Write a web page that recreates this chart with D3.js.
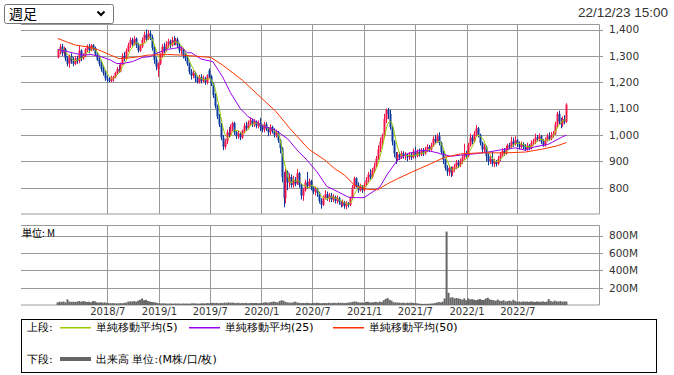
<!DOCTYPE html>
<html>
<head>
<meta charset="utf-8">
<script src="https://cdn.jsdelivr.net/npm/d3@7"></script>
<style>
body { margin: 0; background: #fff; }
svg { display: block; }
text { font-family: "DejaVu Sans", sans-serif; }
</style>
</head>
<body>
<div id="chart"></div>
<script>
// weekly candles, first week 2018/1/5
var firstWeek = new Date(2018, 0, 5);

var opens = [1295,1320,1335,1310,1325,1290,1270,1300,1280,1270,1290,1280,1320,1290,1300,1325,1335,1320,1340,1330,
	1305,1285,1270,1250,1235,1215,1210,1205,1212,1220,1235,1250,1240,1270,1300,1290,1320,1340,1360,1345,
	1365,1340,1320,1335,1360,1380,1365,1385,1370,1330,1285,1250,1270,1300,1335,1320,1345,1355,1340,1360,
	1350,1362,1340,1320,1325,1300,1290,1270,1240,1225,1235,1215,1200,1220,1205,1215,1200,1245,1222,1195,
	1150,1110,1070,1040,990,955,975,1010,1000,1030,1045,1010,995,1005,990,1015,1035,1025,1045,1055,
	1040,1050,1035,1045,1030,1020,1040,1025,1010,1030,1015,1000,1010,980,950,840,760,860,820,840,
	810,830,815,855,810,770,790,820,805,825,800,785,795,780,750,735,760,775,760,770,
	755,765,750,760,745,735,745,730,740,735,760,800,835,810,790,805,790,810,830,850,
	840,865,880,910,945,975,995,1060,1095,1080,1030,975,930,910,925,915,930,920,925,915,
	925,915,935,920,935,925,940,930,945,955,945,960,985,975,995,970,935,905,875,860,
	875,855,870,880,895,885,900,915,930,920,960,990,975,1005,1025,1000,970,945,955,920,
	900,910,890,900,890,910,925,940,930,950,960,955,975,965,980,965,955,965,955,945,
	960,950,970,975,990,985,995,975,960,980,995,985,1000,1005,1040,1080,1050,1040,1060,1050];
var highs = [1325,1345,1345,1335,1330,1300,1305,1310,1295,1300,1300,1338,1325,1310,1330,1343,1345,1345,1345,1335,
	1310,1295,1280,1260,1245,1225,1220,1225,1225,1240,1258,1265,1275,1310,1315,1328,1350,1370,1368,1375,
	1370,1350,1345,1370,1392,1400,1398,1395,1380,1335,1295,1275,1310,1345,1350,1355,1365,1362,1372,1375,
	1368,1370,1350,1335,1330,1310,1300,1275,1250,1245,1240,1225,1228,1230,1225,1220,1230,1252,1228,1200,
	1158,1115,1080,1045,1000,985,1020,1030,1040,1050,1050,1015,1015,1012,1020,1045,1050,1055,1066,1062,
	1060,1055,1055,1065,1040,1050,1048,1030,1040,1035,1025,1020,1015,985,955,860,872,865,855,850,
	845,840,870,860,815,800,830,860,835,830,805,805,800,785,760,770,790,785,780,780,
	775,770,770,765,750,755,750,748,745,765,810,842,840,820,815,810,820,840,860,870,
	875,895,920,961,990,1005,1080,1100,1102,1095,1035,980,935,935,935,940,938,935,930,935,
	932,948,955,945,948,950,950,955,965,962,970,995,1000,1005,1010,975,940,910,885,885,
	880,880,890,905,905,910,925,967,940,970,1005,1000,1015,1037,1030,1005,975,965,960,930,
	925,935,910,905,920,935,950,950,960,967,970,993,990,995,985,975,975,972,965,970,
	965,980,985,1005,1000,1005,1000,985,990,1005,1010,1011,1015,1050,1088,1092,1065,1070,1075,1120];
var lows = [1290,1305,1300,1300,1280,1260,1255,1270,1260,1265,1270,1272,1280,1285,1295,1315,1310,1318,1320,1300,
	1280,1260,1240,1225,1205,1200,1200,1200,1202,1215,1228,1235,1238,1265,1280,1285,1315,1330,1335,1340,
	1330,1312,1315,1330,1350,1355,1360,1360,1320,1270,1245,1220,1265,1295,1310,1315,1330,1330,1335,1340,
	1340,1330,1310,1305,1290,1280,1262,1230,1210,1215,1200,1195,1195,1195,1198,1190,1192,1215,1185,1140,
	1100,1060,1030,980,942,945,965,990,995,1015,1000,985,985,980,985,1005,1015,1020,1035,1030,
	1030,1025,1025,1015,1010,1010,1015,995,1000,1005,990,990,970,930,820,726,740,790,800,800,
	800,805,810,800,755,750,785,795,800,790,775,770,765,740,720,730,755,750,745,745,
	745,740,740,735,725,728,720,718,725,730,755,795,800,780,785,780,785,805,820,830,
	835,855,875,905,935,960,990,1045,1060,1020,960,915,890,900,905,908,910,905,900,905,
	905,910,912,915,918,920,920,925,935,935,940,955,965,970,960,925,890,865,845,845,
	840,845,860,870,875,878,890,905,910,915,955,965,970,995,990,960,930,935,900,885,
	890,880,878,880,885,900,918,920,925,940,945,950,955,960,955,945,948,945,940,940,
	942,945,960,965,975,975,965,955,955,975,978,980,990,1000,1030,1040,1025,1030,1040,1045];
var closes = [1320,1335,1310,1325,1290,1270,1300,1280,1270,1290,1280,1320,1290,1300,1325,1335,1320,1340,1330,1305,
	1285,1270,1250,1235,1215,1210,1205,1218,1220,1235,1250,1240,1270,1300,1290,1320,1340,1360,1345,1365,
	1340,1320,1335,1360,1380,1365,1385,1370,1330,1285,1260,1270,1300,1335,1320,1345,1355,1340,1360,1350,
	1362,1340,1320,1325,1300,1290,1270,1240,1225,1235,1215,1200,1220,1205,1215,1200,1225,1222,1195,1150,
	1110,1070,1040,990,955,975,1010,1000,1030,1045,1010,995,1005,990,1015,1035,1025,1045,1055,1040,
	1050,1035,1045,1030,1020,1040,1025,1010,1030,1015,1000,1010,980,950,840,760,860,820,840,810,
	830,815,855,810,770,790,820,805,825,800,785,795,780,750,735,760,775,760,770,755,
	765,750,760,745,735,745,730,740,735,760,800,835,810,790,805,790,810,830,850,840,
	865,880,910,945,975,995,1060,1095,1080,1030,975,930,910,925,915,930,920,925,915,925,
	915,935,920,935,925,940,930,945,955,945,960,985,975,995,970,935,905,875,860,875,
	855,870,880,895,885,900,915,930,920,960,990,975,1005,1025,1000,970,945,955,920,900,
	910,890,900,890,910,925,940,930,950,960,955,975,965,980,965,955,965,955,945,960,
	950,970,975,990,985,995,975,960,980,995,985,1000,1005,1040,1080,1050,1040,1060,1050,1115];
// volume, millions
var volumes = [30,38,35,40,30,65,40,35,38,35, 40,45,38,45,40,35,38,30,45,42,
	30,28,32,26,30,24,22,20,22,20, 18,20,22,20,25,28,38,42,40,45,
	38,50,60,75,55,60,45,40,35,32, 28,22,20,18,20,18,16,18,17,16,
	18,16,17,15,18,16,17,15,18,20, 18,17,16,18,20,17,22,20,24,25,
	22,25,20,24,22,28,25,30,26,28, 24,22,26,20,24,22,25,20,22,24,
	22,24,20,22,24,28,32,26,30,35, 40,34,30,45,55,48,35,30,28,25,
	32,38,28,25,22,24,22,26,22,20, 24,22,26,24,20,22,24,22,26,22,
	24,26,22,28,24,26,22,25,28,30, 35,40,38,32,28,30,25,35,38,28,
	30,32,36,30,38,34,55,70,80,60, 50,32,30,28,26,24,28,22,26,24,
	28,24,22,20,15,14,12,14,13,15, 16,18,22,28,35,30,38,76,846,140,
	84,90,76,80,76,70,60,75,55,76, 65,68,60,55,62,70,58,60,75,84,
	65,58,55,48,62,50,45,55,40,45, 50,42,60,45,38,40,35,42,38,40,
	36,42,38,35,40,38,36,42,35,40, 68,45,38,50,42,40,45,38,42,40];

// moving averages (week index, value)
var ma25Weeks = [0,9,13,17,22,27,30,33,38,43,47,50,56,59,63,66,68,73,79,84,88,93,97,100,104,111,117,122,127,132,137,143,148,152,156,164,168,173,178,185,190,195,200,205,213,220,226,233,238,243,250,257,259];
var ma25Values = [1325,1309,1303,1305,1297,1284,1271,1271,1278,1294,1297,1309,1325,1328,1333,1312,1312,1288,1278,1220,1160,1100,1069,1056,1035,1018,986,942,904,860,805,783,764,762,762,802,853,904,929,942,938,929,919,923,929,936,944,951,942,955,965,993,999];
var ma50Weeks = [0,5,9,17,21,27,31,33,39,46,56,63,70,78,84,94,102,111,119,128,136,141,146,151,156,163,168,172,180,190,197,205,215,228,238,246,254,259];
var ma50Values = [1366,1352,1341,1332,1322,1303,1290,1290,1294,1303,1305,1303,1299,1294,1265,1208,1152,1090,1018,945,905,872,848,810,795,792,815,830,858,891,915,928,932,932,935,945,958,971];

var priceTicks = [800, 900, 1000, 1100, 1200, 1300, 1400],
	volumeTicks = [200, 400, 600, 800],
	dateTicks = [new Date(2018,6,1), new Date(2019,0,1), new Date(2019,6,1), new Date(2020,0,1),
		new Date(2020,6,1), new Date(2021,0,1), new Date(2021,6,1), new Date(2022,0,1), new Date(2022,6,1)],
	dateLabels = ["2018/7", "2019/1", "2019/7", "2020/1", "2020/7", "2021/1", "2021/7", "2022/1", "2022/7"];

var seriesNames = ["単純移動平均(5)", "単純移動平均(25)", "単純移動平均(50)"],
	seriesColors = ["#99cc00", "#9900ee", "#ff3300"];

var width = 674,
	height = 375,
	left = 21,
	right = 599,
	price = { top: 24.5, bottom: 214 },
	vol = { top: 225.5, bottom: 305 },
	upColor = "#f5164b",
	downColor = "#0d3b9e",
	gridColor = "#9a9a9a";

function weekDate(i) { return d3.timeDay.offset(firstWeek, 7 * i); }

var dates = closes.map(function(d, i) { return weekDate(i); });

var x = d3.scaleTime()
	.domain([new Date(2018,6,1), new Date(2022,6,1)])
	.range([107.3, 517.3]);
var y = d3.scaleLinear().domain([700, 1419]).range([price.bottom, price.top]);
var yv = d3.scaleLinear().domain([0, 916]).range([vol.bottom, vol.top]);

var svg = d3.select("#chart").append("svg")
	.attr("width", width)
	.attr("height", height);

// select box and timestamp
var sel = svg.append("g");
sel.append("rect")
	.attr("x", 4.5).attr("y", 4.5).attr("width", 109).attr("height", 19).attr("rx", 2)
	.attr("fill", "#fff").attr("stroke", "#767676");
sel.append("text")
	.attr("x", 9).attr("y", 19)
	.style("font-family", "'Noto Sans CJK JP'").style("font-size", "14px")
	.text("週足");
sel.append("path")
	.attr("d", "M97.5,11.5 L101,15 L104.5,11.5")
	.attr("fill", "none").attr("stroke", "#000").attr("stroke-width", 2);
svg.append("text")
	.attr("x", 668).attr("y", 17)
	.attr("text-anchor", "end")
	.attr("fill", "#333")
	.style("font-family", "'Liberation Sans'").style("font-size", "13.5px")
	.text("22/12/23 15:00");

function drawPanel(top, bottom, scale, ticks, fmt) {
	var g = svg.append("g");
	ticks.forEach(function(t) {
		var yy = Math.round(scale(t)) + 0.5;
		g.append("line").attr("x1", left).attr("x2", right + 4).attr("y1", yy).attr("y2", yy)
			.attr("stroke", gridColor);
	});
	dateTicks.forEach(function(d) {
		var xx = Math.round(x(d)) + 0.5;
		g.append("line").attr("x1", xx).attr("x2", xx).attr("y1", top).attr("y2", bottom)
			.attr("stroke", gridColor);
	});
	g.append("path")
		.attr("d", "M" + left + "," + top + "H" + (right + 0.5) + "V" + bottom + "H" + left)
		.attr("fill", "none").attr("stroke", gridColor);
	var ax = g.append("g")
		.attr("transform", "translate(" + right + ",0)")
		.call(d3.axisRight(scale).tickValues(ticks).tickSize(0).tickPadding(10).tickFormat(fmt));
	ax.select(".domain").remove();
	ax.selectAll("text").attr("fill", "#333").style("font-size", "10.5px");
	return g;
}

drawPanel(price.top, price.bottom, y, priceTicks, d3.format(","));
drawPanel(vol.top, vol.bottom, yv, volumeTicks, function(d) { return d + "M"; });

// date labels
var xa = svg.append("g")
	.attr("transform", "translate(0," + vol.bottom + ")")
	.call(d3.axisBottom(x).tickValues(dateTicks).tickSize(0).tickPadding(3)
		.tickFormat(function(d, i) { return dateLabels[i]; }));
xa.select(".domain").remove();
xa.selectAll("text").attr("fill", "#333").style("font-size", "10px");

svg.append("text")
	.attr("x", 22).attr("y", 237)
	.style("font-family", "'Noto Sans CJK JP'").style("font-size", "10px")
	.text("単位: M");

// volume bars
svg.append("g").selectAll("rect")
	.data(volumes)
	.enter().append("rect")
	.attr("x", function(d, i) { return x(dates[i]) - 1; })
	.attr("width", 2)
	.attr("y", function(d) { return yv(d); })
	.attr("height", function(d) { return yv(0) - yv(d); })
	.attr("fill", "#666");

// candles
var candle = svg.append("g").selectAll("g")
	.data(closes)
	.enter().append("g")
	.attr("fill", function(d, i) { return d >= opens[i] ? upColor : downColor; })
	.attr("stroke", function(d, i) { return d >= opens[i] ? upColor : downColor; });
candle.append("line")
	.attr("x1", function(d, i) { return Math.round(x(dates[i])) + 0.5; })
	.attr("x2", function(d, i) { return Math.round(x(dates[i])) + 0.5; })
	.attr("y1", function(d, i) { return y(highs[i]); })
	.attr("y2", function(d, i) { return y(lows[i]); });
candle.append("rect")
	.attr("stroke", "none")
	.attr("x", function(d, i) { return Math.round(x(dates[i])) - 0.5; })
	.attr("width", 2)
	.attr("y", function(d, i) { return y(Math.max(d, opens[i])); })
	.attr("height", function(d, i) { return Math.max(1, Math.abs(y(d) - y(opens[i]))); });

// moving averages
var ma5 = closes.map(function(d, i) {
	return d3.mean(closes.slice(Math.max(0, i - 4), i + 1));
});
var line = d3.line()
	.x(function(d) { return x(weekDate(d[0])); })
	.y(function(d) { return y(d[1]); });
var maSeries = [
	ma5.map(function(v, i) { return [i, v]; }),
	ma25Weeks.map(function(w, i) { return [w, ma25Values[i]]; }),
	ma50Weeks.map(function(w, i) { return [w, ma50Values[i]]; })
];
svg.append("g").selectAll("path")
	.data(maSeries)
	.enter().append("path")
	.attr("d", line)
	.attr("fill", "none")
	.attr("stroke", function(d, i) { return seriesColors[i]; })
	.attr("stroke-width", 1);

// legend
var lg = svg.append("g").style("font-family", "'Noto Sans CJK JP'").style("font-size", "11px");
lg.append("rect")
	.attr("x", 21.5).attr("y", 319.5).attr("width", 635).attr("height", 53)
	.attr("fill", "#fff").attr("stroke", "#000");
lg.append("text").attr("x", 27).attr("y", 331).text("上段:");
var legendX = [60, 189, 333];
seriesNames.forEach(function(name, i) {
	lg.append("rect")
		.attr("x", legendX[i]).attr("y", 327).attr("width", 31).attr("height", 1.5)
		.attr("fill", seriesColors[i]);
	lg.append("text").attr("x", legendX[i] + 36).attr("y", 331).text(name);
});
lg.append("text").attr("x", 27).attr("y", 363).text("下段:");
lg.append("rect")
	.attr("x", 60).attr("y", 357).attr("width", 31).attr("height", 4)
	.attr("fill", "#666");
lg.append("text").attr("x", 96).attr("y", 363).text("出来高 単位:(M株/口/枚)");
</script>
</body>
</html>
